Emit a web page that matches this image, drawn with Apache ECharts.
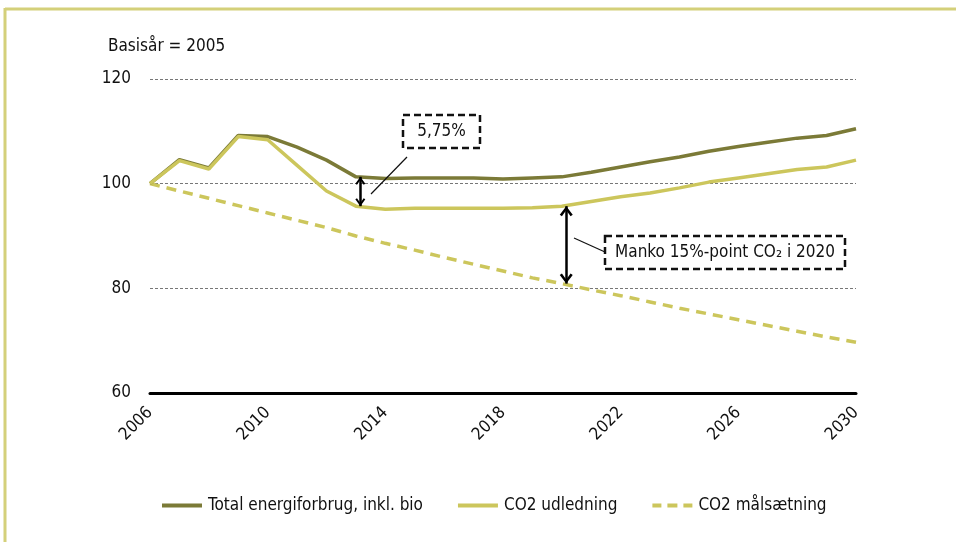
<!DOCTYPE html>
<html>
<head>
<meta charset="utf-8">
<script src="https://cdn.jsdelivr.net/npm/echarts@6/dist/echarts.min.js"></script>
<style>
  html, body { margin: 0; padding: 0; background: #fff; }
  #chart { width: 956px; height: 542px; }
</style>
</head>
<body>
<div id="chart"></div>
<script>
// Index, base year 2005 = 100
const years = [2006, 2007, 2008, 2009, 2010, 2011, 2012, 2013, 2014, 2015, 2016, 2017, 2018,
               2019, 2020, 2021, 2022, 2023, 2024, 2025, 2026, 2027, 2028, 2029, 2030];
const totalEnergy = [100, 104.6, 103.0, 109.2, 109.0, 107.0, 104.5, 101.3, 101.0, 101.1, 101.1, 101.1, 100.9,
                     101.1, 101.3, 102.2, 103.2, 104.2, 105.1, 106.2, 107.1, 107.9, 108.7, 109.2, 110.5];
const co2Emission = [100, 104.4, 102.8, 109.0, 108.4, 103.5, 98.6, 95.7, 95.1, 95.3, 95.3, 95.3, 95.3,
                     95.4, 95.7, 96.6, 97.5, 98.2, 99.2, 100.3, 101.1, 101.9, 102.7, 103.2, 104.5];
const co2Target = [100, 98.6, 97.2, 95.8, 94.4, 93.0, 91.6, 90.0, 88.6, 87.3, 85.9, 84.6, 83.3,
                   82.0, 80.9, 79.7, 78.6, 77.4, 76.2, 75.1, 74.0, 72.9, 71.8, 70.7, 69.7];
const seriesNames = ['Total energiforbrug, inkl. bio', 'CO2 udledning', 'CO2 målsætning'];
const yTicks = [60, 80, 100, 120];
const xTickStep = 4;

const FONT = '"Liberation Sans Narrow", "DejaVu Sans Condensed", "Liberation Sans", sans-serif';
const DARK = '#7b7a37';
const LIGHT = '#ccc65c';

const pairs = vals => years.map((y, i) => [y, vals[i]]);

// open chevron arrow head (tip at the top)
const chevron = 'path://M0,9 L6,0 L12,9 L10,10.4 L6,4.2 L2,10.4 Z';
// legend keys: a solid bar and a three-dash bar
const solidKey = 'path://M0,0 L40,0 L40,4 L0,4 Z';
const dashKey = 'path://M0,0 L9,0 L9,4 L0,4 Z M15,0 L25,0 L25,4 L15,4 Z M31,0 L40,0 L40,4 L31,4 Z';

// double-headed arrow spanning the gap between two series at one year;
// heads are pulled inwards so their tips sit on the lines
function gapArrow(year, idx, upper, lower, size) {
  return {
    silent: true,
    symbol: [chevron, chevron],
    symbolSize: size,
    symbolOffset: [[0, size[1] / 2], [0, size[1] / 2]],
    label: { show: false },
    lineStyle: { color: '#000', width: 2.5, type: 'solid' },
    itemStyle: { color: '#000' },
    emphasis: { disabled: true },
    data: [[{ coord: [year, upper[idx]] }, { coord: [year, lower[idx]] }]]
  };
}

const chart = echarts.init(document.getElementById('chart'), null, { renderer: 'canvas' });

chart.setOption({
  animation: false,
  textStyle: { fontFamily: FONT },
  grid: { left: 150, right: 100, top: 79, bottom: 149 },
  xAxis: {
    type: 'value',
    min: years[0],
    max: years[years.length - 1],
    interval: xTickStep,
    axisLine: { show: true, onZero: false, lineStyle: { color: '#000', width: 3 } },
    axisTick: { show: false },
    splitLine: { show: false },
    axisLabel: {
      rotate: 45, color: '#111', fontSize: 17, fontFamily: FONT, margin: 17,
      formatter: v => String(v)
    }
  },
  yAxis: {
    type: 'value',
    min: yTicks[0],
    max: yTicks[yTicks.length - 1],
    interval: 20,
    axisLine: { show: false },
    axisTick: { show: false },
    axisLabel: { color: '#111', fontSize: 17, fontFamily: FONT, margin: 19 },
    splitLine: { show: true, lineStyle: { color: '#777', width: 1, type: [3, 2] } }
  },
  legend: {
    orient: 'horizontal',
    top: 492,
    left: 157,
    itemWidth: 42,
    itemHeight: 4,
    itemGap: 35,
    textStyle: { color: '#111', fontSize: 17, fontFamily: FONT },
    data: [
      { name: seriesNames[0], icon: solidKey },
      { name: seriesNames[1], icon: solidKey },
      { name: seriesNames[2], icon: dashKey }
    ]
  },
  series: [
    {
      name: seriesNames[0], type: 'line', data: pairs(totalEnergy),
      showSymbol: false, symbol: 'none',
      lineStyle: { color: DARK, width: 3.5 }, itemStyle: { color: DARK },
      z: 3
    },
    {
      name: seriesNames[1], type: 'line', data: pairs(co2Emission),
      showSymbol: false, symbol: 'none',
      lineStyle: { color: LIGHT, width: 3.5 }, itemStyle: { color: LIGHT },
      z: 4,
      markLine: gapArrow(2013.15, 7, totalEnergy, co2Emission, [10, 8])
    },
    {
      name: seriesNames[2], type: 'line', data: pairs(co2Target),
      showSymbol: false, symbol: 'none',
      lineStyle: { color: LIGHT, width: 3.5, type: [10, 7] }, itemStyle: { color: LIGHT },
      z: 2,
      markLine: gapArrow(2020.15, 14, co2Emission, co2Target, [13, 10])
    }
  ],
  graphic: [
    // frame
    { type: 'line', shape: { x1: 5, y1: 9, x2: 956, y2: 9 }, style: { stroke: '#d4d07a', lineWidth: 3 } },
    { type: 'line', shape: { x1: 5, y1: 8, x2: 5, y2: 542 }, style: { stroke: '#d4d07a', lineWidth: 3 } },
    // base year note
    { type: 'text', left: 108, top: 38, style: { text: 'Basisår = 2005', fontSize: 17, fontFamily: FONT, fill: '#111' } },
    // 5,75% callout
    { type: 'rect', shape: { x: 403, y: 115, width: 77, height: 33 },
      style: { fill: '#fff', stroke: '#111', lineWidth: 2.5, lineDash: [7, 4] }, z: 10 },
    { type: 'text', x: 441.5, y: 131.5, style: { text: '5,75%', fontSize: 17, fontFamily: FONT, fill: '#111',
      align: 'center', verticalAlign: 'middle' }, z: 11 },
    { type: 'line', shape: { x1: 407, y1: 157, x2: 371, y2: 194 }, style: { stroke: '#111', lineWidth: 1.2 }, z: 10 },
    // shortfall callout
    { type: 'rect', shape: { x: 605, y: 236, width: 240, height: 33 },
      style: { fill: '#fff', stroke: '#111', lineWidth: 2.5, lineDash: [7, 4] }, z: 10 },
    { type: 'text', x: 725, y: 253, style: { text: 'Manko 15%-point CO₂ i 2020', fontSize: 17, fontFamily: FONT, fill: '#111',
      align: 'center', verticalAlign: 'middle' }, z: 11 },
    { type: 'line', shape: { x1: 574, y1: 238, x2: 605, y2: 252 }, style: { stroke: '#111', lineWidth: 1.2 }, z: 10 }
  ]
});
</script>
</body>
</html>
